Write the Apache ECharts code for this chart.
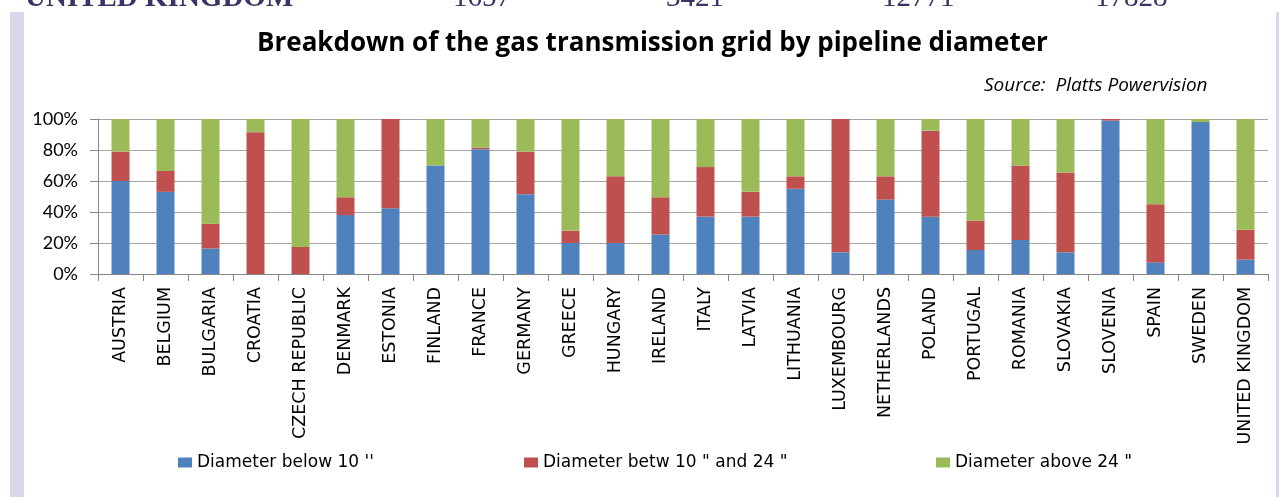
<!DOCTYPE html>
<html>
<head>
<meta charset="utf-8">
<script src="https://cdn.jsdelivr.net/npm/echarts@6/dist/echarts.min.js"></script>
<style>
html,body{margin:0;padding:0;background:#fff;}
#c{width:1281px;height:497px;}
</style>
</head>
<body>
<div id="c"></div>
<script>
var categories = ['AUSTRIA','BELGIUM','BULGARIA','CROATIA','CZECH REPUBLIC','DENMARK','ESTONIA','FINLAND','FRANCE','GERMANY','GREECE','HUNGARY','IRELAND','ITALY','LATVIA','LITHUANIA','LUXEMBOURG','NETHERLANDS','POLAND','PORTUGAL','ROMANIA','SLOVAKIA','SLOVENIA','SPAIN','SWEDEN','UNITED KINGDOM'];
var below10 = [60,53,16.5,0,0,38,42.5,70,80.5,51.5,20,20,25.5,37,37,55,14,48,37,15.5,22,14,99,7.5,98,9.3];
var between10and24 = [19,13.5,16,91.5,17.5,11.5,57.5,0,1,27.5,8,43,24,32,16,8,86,15,55.5,19,48,51.5,1,37.5,0,19.2];
var above24 = [21,33.5,67.5,8.5,82.5,50.5,0,30,18.5,21,72,37,50.5,31,47,37,0,37,7.5,65.5,30,34.5,0,55,2,71.5];
var yTicks = [0,20,40,60,80,100];
var seriesNames = ["Diameter below 10 ''", 'Diameter betw 10 " and 24 "', 'Diameter above 24 "'];
var headerTexts = ['UNITED KINGDOM','1657','3421','12771','17828'];

var chart = echarts.init(document.getElementById('c'), null, {renderer:'canvas'});
var colors = ['#4f81bd','#c0504d','#9bbb59'];
var legendFont = {fontFamily:'DejaVu Sans', fontSize:17, color:'#000'};
function mkLegend(i, left){
  return {data:[seriesNames[i]], left:left, top:454, itemWidth:14, itemHeight:10, itemGap:5,
    icon:'rect', textStyle:legendFont, selectedMode:false, padding:0};
}
var option = {
  animation:false,
  backgroundColor:'#fff',
  color:colors,
  title:[
    {text:'Breakdown of the gas transmission grid by pipeline diameter', left:257, top:31, padding:0,
     textStyle:{fontFamily:'Open Sans', fontWeight:'bold', fontSize:26, color:'#000'}},
    {text:'Source:  Platts Powervision', left:979, top:71,
     textStyle:{fontFamily:'Open Sans', fontStyle:'italic', fontWeight:'normal', fontSize:19, color:'#000'}}
  ],
  legend:[mkLegend(0,178), mkLegend(1,524), mkLegend(2,936)],
  grid:{left:98, right:13, top:119, bottom:223, containLabel:false},
  xAxis:{type:'category', data:categories, boundaryGap:true,
    axisLine:{lineStyle:{color:'#868686', width:1}},
    axisTick:{show:true, length:7, lineStyle:{color:'#868686'}},
    axisLabel:{rotate:90, interval:0, margin:13, fontFamily:'DejaVu Sans', fontSize:17.5, color:'#000'}
  },
  yAxis:{type:'value', min:0, max:100, interval:20,
    axisLine:{show:true, lineStyle:{color:'#868686'}},
    axisTick:{show:true, length:8, lineStyle:{color:'#868686'}},
    splitLine:{lineStyle:{color:'#a6a6a6', width:1}},
    axisLabel:{formatter:function(v){return v+'%';}, margin:20, fontFamily:'Lato', fontSize:18, color:'#000'}
  },
  series:[
    {name:seriesNames[0], type:'bar', stack:'t', data:below10, barWidth:18},
    {name:seriesNames[1], type:'bar', stack:'t', data:between10and24, barWidth:18},
    {name:seriesNames[2], type:'bar', stack:'t', data:above24, barWidth:18}
  ],
  graphic:[
    {type:'rect', shape:{x:10, y:12, width:14, height:485}, style:{fill:'#dcd6e8'}, silent:true},
    {type:'rect', shape:{x:1276, y:12, width:3, height:485}, style:{fill:'#dcd6e8'}, silent:true},
    {type:'text', left:25, top:-16, style:{text:headerTexts[0], font:'bold 29px "Liberation Serif"', fill:'#3c3266'}},
    {type:'text', left:453, top:-16, style:{text:headerTexts[1], font:'29px "Liberation Serif"', fill:'#3c3266'}},
    {type:'text', left:666, top:-16, style:{text:headerTexts[2], font:'29px "Liberation Serif"', fill:'#3c3266'}},
    {type:'text', left:882, top:-16, style:{text:headerTexts[3], font:'29px "Liberation Serif"', fill:'#3c3266'}},
    {type:'text', left:1095, top:-16, style:{text:headerTexts[4], font:'29px "Liberation Serif"', fill:'#3c3266'}}
  ]
};
chart.setOption(option);
</script>
</body>
</html>
